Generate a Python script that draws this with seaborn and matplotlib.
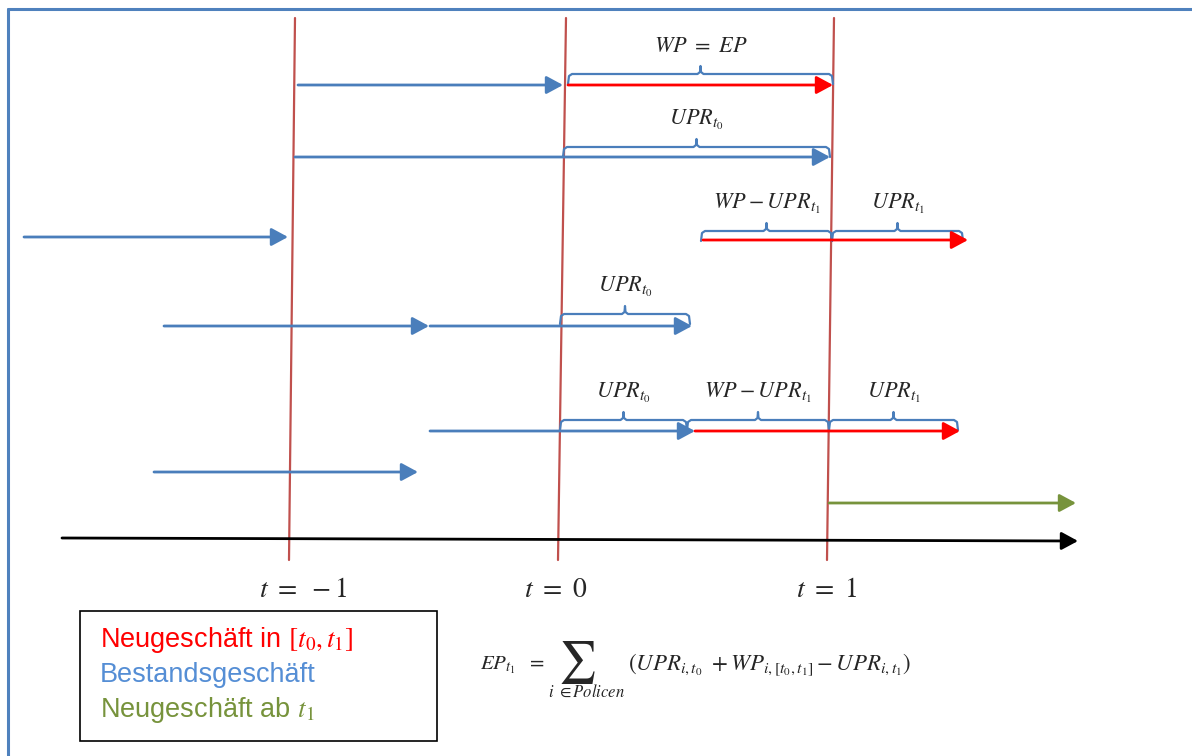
"""
Zeitachsen-Diagramm: Prämienverdienung (WP, UPR, EP) über die Perioden t=-1, 0, 1
"""

import matplotlib
matplotlib.use("Agg")
import matplotlib.pyplot as plt
import seaborn as sns

sns.set_theme(style="white")
plt.rcParams['font.family'] = ['Liberation Sans', 'DejaVu Sans']
plt.rcParams['mathtext.fontset'] = 'stix'

# ----------------------------------------------------------------------------
# DATA (pixel coordinates of the original sketch, y grows downward)
# ----------------------------------------------------------------------------
time_labels = [r'$t\ =\ -1$', r'$t\ =\ 0$', r'$t\ =\ 1$']
time_top_x = [295, 566, 834]
time_bottom_x = [289, 558, 827]
time_label_x = [303, 556, 826]

# policy arrows: start, end, row y, kind
arrow_start = [298, 568, 295, 24, 703, 164, 430, 430, 695, 154, 829]
arrow_end = [563, 833, 830, 288, 968, 429, 692, 695, 960, 418, 1076]
arrow_y = [85, 85, 157, 237, 240, 326, 326, 431, 431, 472, 503]
arrow_kind = ['bestand', 'neu', 'bestand', 'bestand', 'neu', 'bestand', 'bestand',
              'bestand', 'neu', 'bestand', 'neu_ab']

# braces: left, right, y, label
brace_left = [568, 563, 701, 832, 560, 560, 687, 829]
brace_right = [833, 830, 832, 963, 690, 687, 829, 958]
brace_y = [74, 147, 231, 231, 314, 420, 420, 420]
brace_text = [r'$WP\ =\ EP$', r'$UPR_{t_0}$', r'$WP-UPR_{t_1}$', r'$UPR_{t_1}$',
              r'$UPR_{t_0}$', r'$UPR_{t_0}$', r'$WP-UPR_{t_1}$', r'$UPR_{t_1}$']

legend_text = [r'Neugeschäft in $[t_0, t_1]$', 'Bestandsgeschäft', r'Neugeschäft ab $t_1$']

colors = {'bestand': '#4A7EBB', 'neu': '#FF0000', 'neu_ab': '#77933C'}
legend_colors = ['#FF0000', '#558ED5', '#77933C']

formula_lhs = r'$EP_{t_1}\ \ =$'
formula_sub = r'$i\ \in Policen$'
formula_rhs = r'$(UPR_{i,t_0}\ + WP_{i,[t_0,t_1]} - UPR_{i,t_1})$'

# ----------------------------------------------------------------------------
# FIGURE
# ----------------------------------------------------------------------------
fig = plt.figure(figsize=(11.92, 7.56), dpi=100)
ax = fig.add_axes([0, 0, 1, 1])
ax.set_xlim(0, 1192)
ax.set_ylim(756, 0)
ax.axis('off')

# outer frame (only top and left visible)
ax.plot([8, 1192], [9, 9], color='#4F81BD', lw=2.2)
ax.plot([8, 8], [9, 756], color='#4F81BD', lw=2.2)


def arrow(x0, x1, y, color, y1=None):
    ax.annotate('', xy=(x1, y if y1 is None else y1), xytext=(x0, y),
                arrowprops=dict(arrowstyle='-|>,head_length=0.5,head_width=0.27',
                                mutation_scale=20, lw=2.0, color=color,
                                shrinkA=0, shrinkB=0))


# time axis
arrow(62, 1078, 538, 'black', y1=541)

# period lines
for xt, xb in zip(time_top_x, time_bottom_x):
    sns.lineplot(x=[xt, xb], y=[18, 560], sort=False, estimator=None,
                 color='#C0504D', lw=1.6, ax=ax)

for lab, x in zip(time_labels, time_label_x):
    ax.text(x, 590, lab, fontsize=20, ha='center', va='center')

# policies
for x0, x1, y, k in zip(arrow_start, arrow_end, arrow_y, arrow_kind):
    arrow(x0, x1, y, colors[k])


def brace(x0, x1, y):
    xm = (x0 + x1) / 2
    xs = [x0, x0 + 1, x0 + 4, xm - 3, xm - 0.5, xm, xm + 0.5, xm + 3, x1 - 4, x1 - 1, x1]
    ys = [y + 10, y + 2, y, y, y - 2, y - 8, y - 2, y, y, y + 2, y + 10]
    ax.plot(xs, ys, color='#4A7EBB', lw=1.6, solid_joinstyle='round')


for x0, x1, y, lab in zip(brace_left, brace_right, brace_y, brace_text):
    brace(x0, x1, y)
    ax.text((x0 + x1) / 2, y - 27, lab, fontsize=16, ha='center', va='center')

# legend box
ax.add_patch(plt.Rectangle((80, 611), 357, 130, fill=False, edgecolor='black', lw=1.2))
for i, (lab, c) in enumerate(zip(legend_text, legend_colors)):
    ax.text(100, 640 + i * 35, lab, color=c, fontsize=19.5, ha='left', va='center')

# formula
ax.text(480, 665, formula_lhs, fontsize=15, ha='left', va='center')
ax.text(577, 663, r'$\sum$', fontsize=30, ha='center', va='center')
ax.text(587, 692, formula_sub, fontsize=12, ha='center', va='center')
ax.text(628, 665, formula_rhs, fontsize=16.5, ha='left', va='center')

plt.savefig('out.png', dpi=100)
